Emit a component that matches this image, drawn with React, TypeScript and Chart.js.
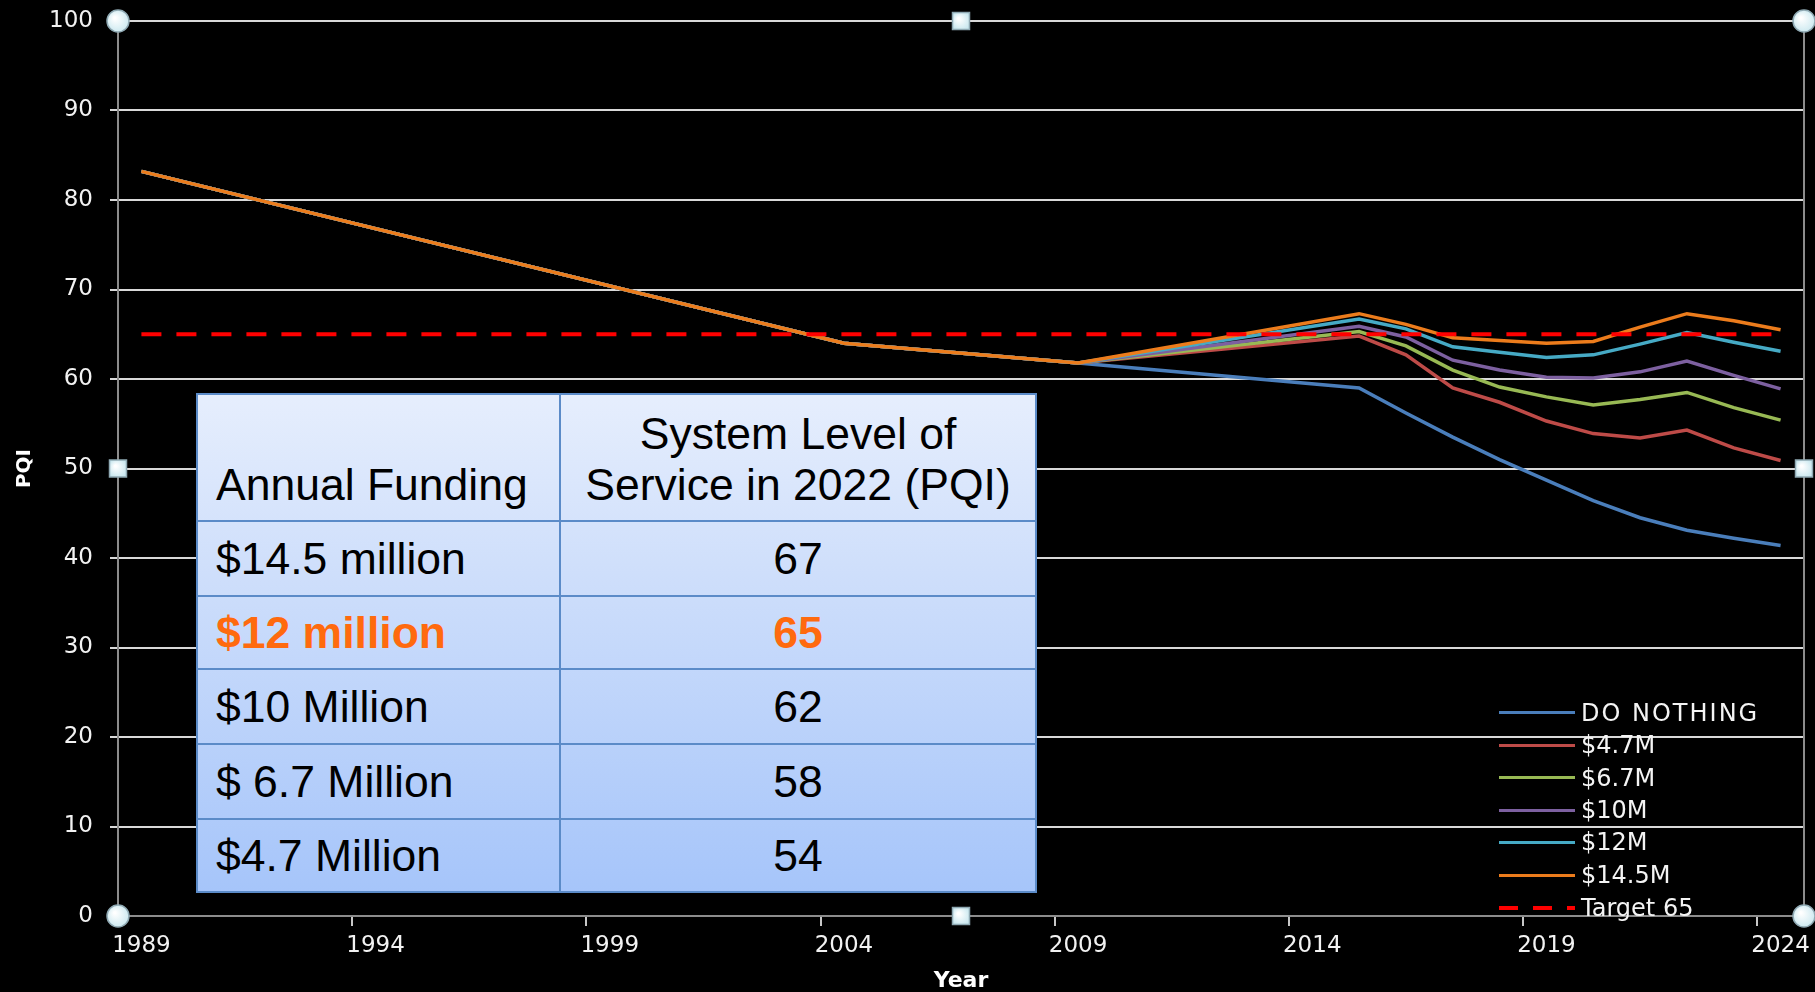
import React, { useEffect, useRef } from 'react';
import { Chart, registerables } from 'chart.js';

Chart.register(...registerables);

// ---------- DATA ----------
const years = [
  '1989', '1990', '1991', '1992', '1993', '1994', '1995', '1996', '1997', '1998',
  '1999', '2000', '2001', '2002', '2003', '2004', '2005', '2006', '2007', '2008',
  '2009', '2010', '2011', '2012', '2013', '2014', '2015', '2016', '2017', '2018',
  '2019', '2020', '2021', '2022', '2023', '2024',
];

// years at which the series have vertices
const seriesYears = ['1989', '2004', '2009', '2015', '2016', '2017', '2018', '2019', '2020', '2021', '2022', '2023', '2024'];

const doNothing = [83.2, 64.0, 61.8, 59.0, 56.2, 53.5, 51.0, 48.7, 46.4, 44.5, 43.1, 42.2, 41.4];
const fund47 = [83.2, 64.0, 61.8, 64.8, 62.7, 59.0, 57.4, 55.3, 53.9, 53.4, 54.3, 52.3, 50.9];
const fund67 = [83.2, 64.0, 61.8, 65.3, 63.7, 61.0, 59.1, 58.0, 57.1, 57.7, 58.5, 56.8, 55.4];
const fund10 = [83.2, 64.0, 61.8, 65.9, 64.7, 62.1, 61.0, 60.2, 60.1, 60.8, 62.0, 60.4, 58.9];
const fund12 = [83.2, 64.0, 61.8, 66.7, 65.6, 63.6, 63.0, 62.4, 62.7, 63.9, 65.2, 64.1, 63.1];
const fund145 = [83.2, 64.0, 61.8, 67.3, 66.1, 64.6, 64.3, 64.0, 64.2, 65.8, 67.3, 66.5, 65.5];

const targetYears = ['1989', '2024'];
const target = [65, 65];

const legendLabels = ['DO NOTHING', '$4.7M', '$6.7M', '$10M', '$12M', '$14.5M', 'Target 65'];
const seriesColors = ['#4a7ebb', '#be4b48', '#98b954', '#7d60a0', '#46aac5', '#ec7c1c', '#ff0000'];

const tableHeader = ['Annual Funding', 'System Level of', 'Service in 2022 (PQI)'];
const fundingLabels = ['$14.5 million', '$12 million', '$10 Million', '$ 6.7 Million', '$4.7 Million'];
const pqi2022 = [67, 65, 62, 58, 54];
const highlightRow = 1;

// ---------- helpers ----------
const toPoints = (xs: string[], ys: number[]) => xs.map((x, i) => ({ x, y: ys[i] }));

const decorPlugin = {
  id: 'decor',
  afterDraw(chart: any) {
    const { ctx, chartArea } = chart;
    const { left, right, top, bottom } = chartArea;
    ctx.save();
    // right border of plot area
    ctx.strokeStyle = '#8c8c8c';
    ctx.lineWidth = 2;
    ctx.beginPath();
    ctx.moveTo(right, top);
    ctx.lineTo(right, bottom);
    ctx.stroke();

    const fillFor = (x: number, y: number, r: number) => {
      const g = ctx.createRadialGradient(x - r * 0.3, y - r * 0.3, 1, x, y, r * 1.2);
      g.addColorStop(0, '#ffffff');
      g.addColorStop(1, '#c6e6ee');
      return g;
    };
    const circle = (x: number, y: number) => {
      const r = 11;
      ctx.beginPath();
      ctx.arc(x, y, r, 0, Math.PI * 2);
      ctx.fillStyle = fillFor(x, y, r);
      ctx.fill();
      ctx.lineWidth = 1.5;
      ctx.strokeStyle = '#8fa9b3';
      ctx.stroke();
    };
    const square = (x: number, y: number) => {
      const s = 17;
      ctx.fillStyle = fillFor(x, y, s / 2);
      ctx.fillRect(x - s / 2, y - s / 2, s, s);
      ctx.lineWidth = 1.5;
      ctx.strokeStyle = '#8fa9b3';
      ctx.strokeRect(x - s / 2, y - s / 2, s, s);
    };
    const cx = (left + right) / 2;
    const cy = (top + bottom) / 2;
    circle(left, top);
    circle(right, top);
    circle(left, bottom);
    circle(right, bottom);
    square(cx, top);
    square(cx, bottom);
    square(left, cy);
    square(right, cy);
    ctx.restore();
  },
};

export default function App() {
  const canvasRef = useRef<HTMLCanvasElement | null>(null);

  useEffect(() => {
    document.body.style.margin = '0';
    document.body.style.background = '#000';
    const canvas = canvasRef.current;
    if (!canvas) return;

    Chart.defaults.font.family = '"DejaVu Sans", sans-serif';

    const lineDs = (label: string, xs: string[], ys: number[], color: string, order: number, extra: any = {}) => ({
      label,
      data: toPoints(xs, ys),
      borderColor: color,
      backgroundColor: color,
      borderWidth: 3.5,
      pointRadius: 0,
      tension: 0,
      fill: false,
      order,
      ...extra,
    });

    const chart = new Chart(canvas, {
      type: 'line',
      data: {
        labels: years,
        datasets: [
          lineDs(legendLabels[0], seriesYears, doNothing, seriesColors[0], 6),
          lineDs(legendLabels[1], seriesYears, fund47, seriesColors[1], 5),
          lineDs(legendLabels[2], seriesYears, fund67, seriesColors[2], 4),
          lineDs(legendLabels[3], seriesYears, fund10, seriesColors[3], 3),
          lineDs(legendLabels[4], seriesYears, fund12, seriesColors[4], 2),
          lineDs(legendLabels[5], seriesYears, fund145, seriesColors[5], 1),
          lineDs(legendLabels[6], targetYears, target, seriesColors[6], 0, { borderWidth: 4, borderDash: [20, 15] }),
        ],
      },
      options: {
        animation: false,
        responsive: false,
        layout: { padding: { top: 21, right: 11, left: 0, bottom: 0 } },
        plugins: {
          legend: { display: false },
          tooltip: { enabled: false },
        },
        scales: {
          x: {
            type: 'category',
            offset: true,
            grid: {
              offset: true,
              drawOnChartArea: false,
              drawTicks: true,
              tickLength: 10,
              lineWidth: 2,
              color: (c: any) => (c.index % 5 === 0 ? '#c8c8c8' : 'transparent'),
            },
            border: { color: '#8c8c8c', width: 2 },
            ticks: {
              autoSkip: false,
              maxRotation: 0,
              minRotation: 0,
              padding: 6,
              color: '#f2f2f2',
              font: { size: 23 },
              callback: (_v: any, i: number) => (i % 5 === 0 ? years[i] : ''),
            },
            title: {
              display: true,
              text: 'Year',
              color: '#ffffff',
              font: { size: 22, weight: 'bold', lineHeight: 1 },
              padding: 0,
            },
            afterFit: (s: any) => {
              s.height = 76;
              s.paddingLeft = 0;
              s.paddingRight = 0;
            },
          },
          y: {
            min: 0,
            max: 100,
            ticks: {
              stepSize: 10,
              padding: 17,
              color: '#f2f2f2',
              font: { size: 23 },
            },
            grid: {
              color: (c: any) => (c.tick && c.tick.value === 0 ? 'transparent' : '#d9d9d9'),
              lineWidth: 2,
              tickLength: 8,
            },
            border: { color: '#8c8c8c', width: 2 },
            title: {
              display: true,
              text: 'PQI',
              color: '#ffffff',
              font: { size: 20, weight: 'bold' },
              padding: { top: 13, bottom: 0 },
            },
            afterFit: (s: any) => {
              s.width = 118;
              s.paddingTop = 0;
              s.paddingBottom = 0;
            },
          },
        },
      } as any,
      plugins: [decorPlugin],
    });

    return () => chart.destroy();
  }, []);

  const legendCenters = [712.7, 745, 777.7, 810, 842.3, 875, 907.7];

  const borderCol = '#5b8bc8';
  const rowHeights = [127, 75, 73, 75, 75, 71];

  return (
    <div style={{ position: 'relative', width: 1815, height: 992, background: '#000', overflow: 'hidden' }}>
      <canvas ref={canvasRef} width={1815} height={992} style={{ position: 'absolute', left: 0, top: 0, width: 1815, height: 992 }} />

      {/* Table overlay */}
      <div
        style={{
          position: 'absolute',
          left: 196,
          top: 393,
          width: 841,
          height: 500,
          boxSizing: 'border-box',
          border: `2px solid ${borderCol}`,
          background: 'linear-gradient(180deg, #e6eefd 0%, #cfdffb 35%, #a6c5fa 100%)',
          display: 'grid',
          gridTemplateColumns: '363px 474px',
          gridTemplateRows: rowHeights.map((h) => `${h}px`).join(' '),
          fontFamily: '"Liberation Sans", Arial, sans-serif',
          fontSize: 44.5,
          color: '#000',
        }}
      >
        <div
          style={{
            borderRight: `2px solid ${borderCol}`,
            borderBottom: `2px solid ${borderCol}`,
            display: 'flex',
            alignItems: 'flex-end',
            paddingLeft: 18,
            paddingBottom: 10,
            lineHeight: '51px',
          }}
        >
          {tableHeader[0]}
        </div>
        <div
          style={{
            borderBottom: `2px solid ${borderCol}`,
            display: 'flex',
            alignItems: 'flex-end',
            justifyContent: 'center',
            textAlign: 'center',
            paddingBottom: 10,
            lineHeight: '51px',
          }}
        >
          <div>
            {tableHeader[1]}
            <br />
            {tableHeader[2]}
          </div>
        </div>
        {fundingLabels.map((lab, i) => {
          const last = i === fundingLabels.length - 1;
          const hl = i === highlightRow;
          const textStyle: any = hl ? { color: '#ff6a0e', fontWeight: 'bold' } : {};
          return (
            <React.Fragment key={lab}>
              <div
                style={{
                  borderRight: `2px solid ${borderCol}`,
                  borderBottom: last ? 'none' : `2px solid ${borderCol}`,
                  display: 'flex',
                  alignItems: 'center',
                  paddingLeft: 18,
                  ...textStyle,
                }}
              >
                {lab}
              </div>
              <div
                style={{
                  borderBottom: last ? 'none' : `2px solid ${borderCol}`,
                  display: 'flex',
                  alignItems: 'center',
                  justifyContent: 'center',
                  ...textStyle,
                }}
              >
                {pqi2022[i]}
              </div>
            </React.Fragment>
          );
        })}
      </div>

      {/* Legend overlay */}
      {legendLabels.map((lab, i) => {
        const cy = legendCenters[i];
        const dashed = i === legendLabels.length - 1;
        return (
          <React.Fragment key={lab}>
            <div
              style={{
                position: 'absolute',
                left: 1499,
                top: cy - (dashed ? 2 : 1.5),
                width: 76,
                height: dashed ? 4 : 3,
                background: dashed
                  ? `repeating-linear-gradient(90deg, ${seriesColors[i]} 0px, ${seriesColors[i]} 19px, transparent 19px, transparent 34px)`
                  : seriesColors[i],
              }}
            />
            <div
              style={{
                position: 'absolute',
                left: 1581,
                top: cy - 16,
                height: 32,
                lineHeight: '32px',
                fontFamily: '"DejaVu Sans", sans-serif',
                fontSize: 24,
                letterSpacing: i === 0 ? 2 : 0,
                color: '#f4f4f4',
                whiteSpace: 'nowrap',
              }}
            >
              {lab}
            </div>
          </React.Fragment>
        );
      })}
    </div>
  );
}
